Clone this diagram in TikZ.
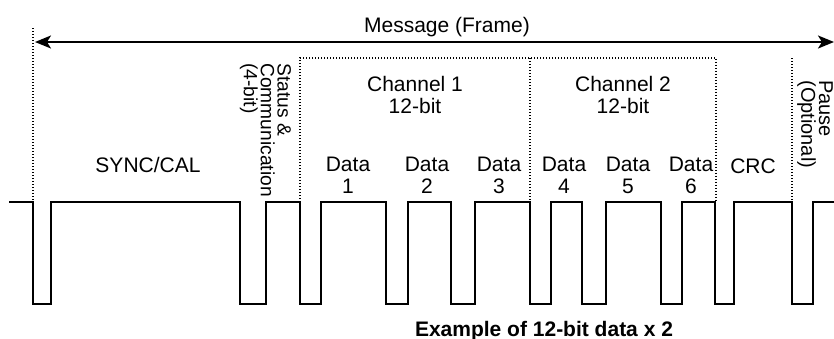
\documentclass[tikz,border=0pt]{standalone}
\usepackage{fontspec}
\setmainfont{Liberation Sans}
\usetikzlibrary{arrows.meta}

\begin{document}
\begin{tikzpicture}[x=0.5pt, y=-0.5pt,
    every node/.style={font=\fontsize{10.5}{11}\selectfont, inner sep=0pt},
    signal/.style={line width=0.75pt, black, line join=miter},
    frameline/.style={black, line width=0.6pt, dash pattern=on 0.6pt off 0.9pt},
    sidelabel/.style={rotate=-90, anchor=west, align=left}]
    \useasboundingbox (0,0) rectangle (834,338);

    % Message (Frame)
    \coordinate (frameL) at (35,42);
    \coordinate (frameR) at (834,42);
    \draw[line width=1pt, {Stealth[length=8pt, width=6.5pt, inset=2pt]}-{Stealth[length=8pt, width=6.5pt, inset=2pt]}] (frameL) -- (frameR);
    \node[anchor=base] (msg) at (447,32) {Message (Frame)};

    % Rahmen der Felder
    \draw[frameline] (33,28) -- (33,202);
    \draw[frameline] (300,202) -- (300,58) -- (716,58) -- (716,202);
    \draw[frameline] (530,58) -- (530,202);
    \draw[frameline] (792,58) -- (792,202);

    % Felder
    \node[anchor=base] (sync) at (148,172) {SYNC/CAL};
    \node[sidelabel, font=\fontsize{9.6}{8.4}\selectfont] (status) at (265.5,63) {Status \&\\Communication\\(4-bit)};
    \node[align=center] (ch1) at (415,94.5) {Channel 1\\12-bit};
    \node[align=center] (ch2) at (623,94.5) {Channel 2\\12-bit};
    \foreach \x/\n in {348/1, 427/2, 499/3, 564/4, 628/5, 691/6}
        \node[align=center] (data\n) at (\x,175.5) {Data\\\n};
    \node[anchor=base] (crc) at (753,173) {CRC};
    \node[sidelabel, font=\fontsize{10}{8.8}\selectfont] (pause) at (815,80) {Pause\\(Optional)};

    % Signal
    \draw[signal] (9,202)
        \foreach \f/\r in {33/51, 240/266, 300/321, 386/408, 451/475,
                           530/551, 582/606, 661/682, 715/734, 792/813}
        { -- (\f,202) -- (\f,304) -- (\r,304) -- (\r,202) } -- (834,202);

    \node[anchor=base, font=\fontsize{10.5}{11}\selectfont\bfseries] (caption) at (544,336) {Example of 12-bit data x 2};
\end{tikzpicture}
\end{document}
